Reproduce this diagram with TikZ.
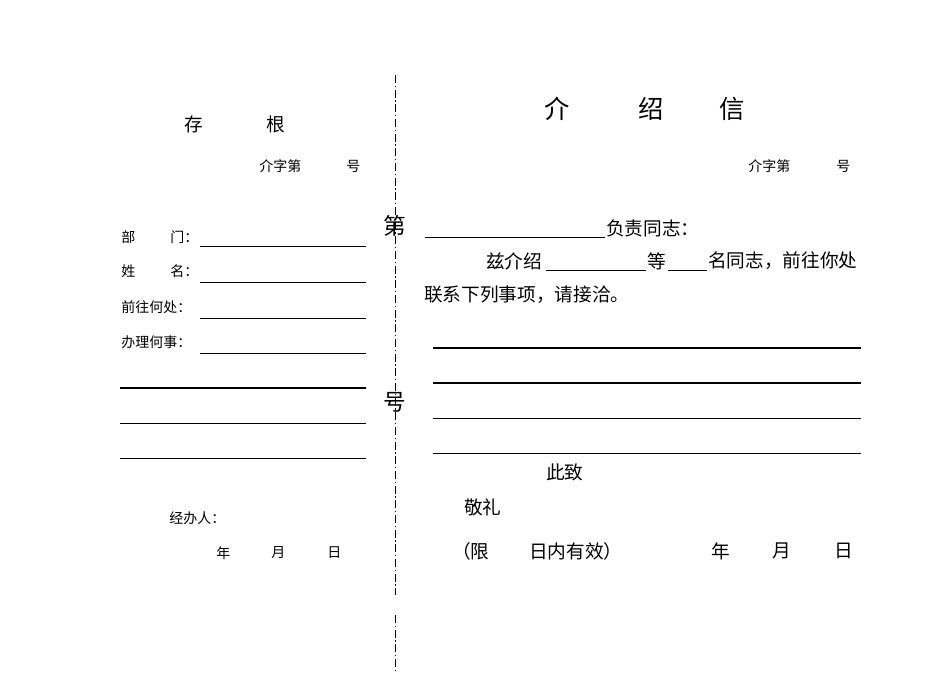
\documentclass[tikz,border=0pt]{standalone}
\usepackage{fontspec}
\setmainfont{Noto Sans CJK SC}
\begin{document}
\begin{tikzpicture}[x=0.75pt,y=-0.75pt,
  s/.style={anchor=west,inner sep=0pt,font=\fontsize{10.5}{12}\selectfont},
  m/.style={anchor=west,inner sep=0pt,font=\fontsize{14}{16}\selectfont},
  t/.style={anchor=center,inner sep=0pt,font=\fontsize{19}{22}\selectfont},
  rl/.style={line width=0.6pt}]
\useasboundingbox[fill=white] (0,0) rectangle (950,672);
% dashed line
\draw[line width=0.6pt,dash pattern=on 6pt off 2pt on 1pt off 2pt] (395,75) coordinate(d1) -- (395,595) coordinate(d2);
\draw[line width=0.6pt,dash pattern=on 6pt off 2pt on 1pt off 2pt] (395,615) coordinate(d3) -- (395,672) coordinate(d4);
\node[t,font=\fontsize{17}{20}\selectfont] (di) at (395,226) {第};
\node[t,font=\fontsize{17}{20}\selectfont] (hao) at (395,402) {号};
% left stub
\node[t,font=\fontsize{14}{16}\selectfont] (cun) at (194,124) {存};
\node[t,font=\fontsize{14}{16}\selectfont] (gen) at (276,124) {根};
\node[s] (lz) at (259,166) {介字第};
\node[s] (lh) at (346,166) {号};
\node[s] (bu) at (121,237) {部}; \node[s] (men) at (170,237) {门：};
\draw[rl] (200,246) coordinate(a1) -- (366,246) coordinate(a2);
\node[s] (xing) at (121,271) {姓}; \node[s] (ming) at (170,271) {名：};
\draw[rl] (200,282) coordinate(b1) -- (366,282) coordinate(b2);
\node[s] (qw) at (121,307) {前往何处：};
\draw[rl] (200,318) coordinate(c1) -- (366,318) coordinate(c2);
\node[s] (bl) at (121,342) {办理何事：};
\draw[rl] (200,353) coordinate(e1) -- (366,353) coordinate(e2);
\draw[line width=0.9pt] (120,388) coordinate(f1) -- (366,388) coordinate(f2);
\draw[rl] (120,423) coordinate(g1) -- (366,423) coordinate(g2);
\draw[rl] (120,458) coordinate(h1) -- (366,458) coordinate(h2);
\node[s] (jb) at (169,518) {经办人：};
\node[s] (ln) at (216,553) {年};
\node[s] (ly) at (271,553) {月};
\node[s] (lr) at (327,553) {日};
% right letter
\node[t] (jie) at (557,109) {介};
\node[t] (shao) at (651,109) {绍};
\node[t] (xin) at (732,109) {信};
\node[s] (rz) at (748,166) {介字第};
\node[s] (rh) at (836,166) {号};
\draw[rl] (425,237) coordinate(u1) -- (605,237) coordinate(u2);
\node[m] (fz) at (606,228) {负责同志：};
\node[m] (zj) at (486,261) {兹介绍};
\draw[rl] (546,270) coordinate(u3) -- (646,270) coordinate(u4);
\node[m] (deng) at (647,261) {等};
\draw[rl] (668,270) coordinate(u5) -- (707,270) coordinate(u6);
\node[m] (mt) at (708,261) {名同志，前往你处};
\node[m] (lx) at (424,295) {联系下列事项，请接洽。};
\draw[line width=0.9pt] (433,348) coordinate(r1) -- (861,348) coordinate(r2);
\draw[line width=1.1pt] (433,383) coordinate(r3) -- (861,383) coordinate(r4);
\draw[rl] (433,418) coordinate(r5) -- (861,418) coordinate(r6);
\draw[rl] (433,453) coordinate(r7) -- (861,453) coordinate(r8);
\node[m] (cz) at (546,472) {此致};
\node[m] (jl) at (464,507) {敬礼};
\node[m] (xian) at (452,551) {（限};
\node[m] (rn) at (529,551) {日内有效）};
\node[m] (nian) at (711,551) {年};
\node[m] (yue) at (772,551) {月};
\node[m] (ri) at (834,551) {日};
\end{tikzpicture}
\end{document}
